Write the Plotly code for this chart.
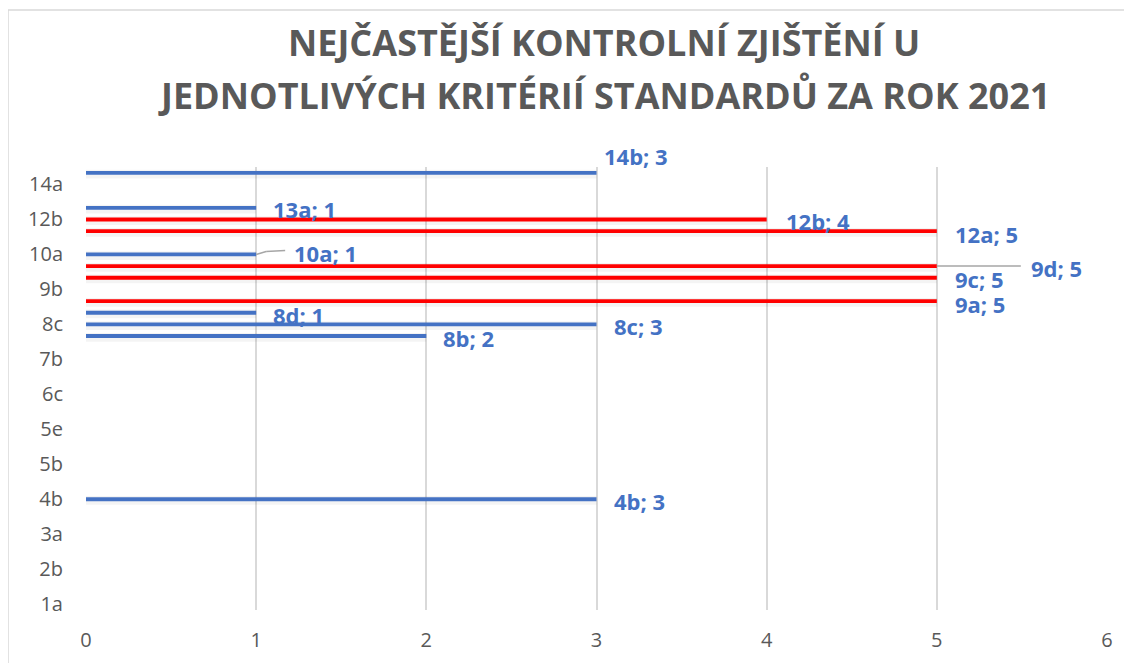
import plotly.graph_objects as go

# ---------------- data ----------------
categories = ["1a", "1b", "2a", "2b", "2c", "2d", "3a", "3b", "4a", "4b", "4c",
              "5a", "5b", "5c", "5d", "5e", "6a", "6b", "6c", "6d", "7a", "7b",
              "8a", "8b", "8c", "8d", "9a", "9b", "9c", "9d", "10a", "11a",
              "12a", "12b", "13a", "13b", "14a", "14b"]
blue_labels = ["4b", "8b", "8c", "8d", "10a", "13a", "14b"]
blue_values = [3, 2, 3, 1, 1, 1, 3]
red_labels = ["9a", "9c", "9d", "12a", "12b"]
red_values = [5, 5, 5, 5, 4]
x_ticks = [0, 1, 2, 3, 4, 5, 6]
title_lines = ["NEJČASTĚJŠÍ KONTROLNÍ ZJIŠTĚNÍ U",
               "JEDNOTLIVÝCH KRITÉRIÍ STANDARDŮ ZA ROK 2021"]

# ---------------- layout constants ----------------
PAGE_OFF = 8  # default body margin of the html page
W, H = 1124, 655
L, R, T, B = 86 - PAGE_OFF, 25, 167 - PAGE_OFF, 53
plot_w = W - L - R
plot_h = H - T - B
px_per_x = plot_w / 6.0
px_per_cat = plot_h / len(categories)

BLUE = "#4472C4"
RED = "#FF0000"
GRID = "#D9D9D9"
TEXT = "#595959"
FONT = "Open Sans"

# data-label offsets in pixels (dx from bar end, dy upward)
label_offsets = {"14b": (5, 17), "13a": (15, -1), "12b": (17, -2), "12a": (16, -3),
                 "10a": (36, 1), "9d": (92, -2), "9c": (16, -1), "9a": (16, -3),
                 "8d": (15, -2), "8c": (15, -2), "8b": (15, -2), "4b": (15, -2)}

fig = go.Figure()

# invisible trace to hold every category on the axis
fig.add_trace(go.Scatter(x=[None] * len(categories), y=categories, mode="markers",
                         marker=dict(opacity=0), showlegend=False, hoverinfo="skip"))

bar_w = 0.33
for labs, vals in ((blue_labels, blue_values), (red_labels, red_values)):
    # soft shadow under the bars
    fig.add_trace(go.Bar(y=labs, x=vals, orientation="h", width=0.75, offset=-0.48,
                         marker=dict(color="rgba(0,0,0,0.045)", line=dict(width=0)),
                         showlegend=False, hoverinfo="skip"))
fig.add_trace(go.Bar(y=blue_labels, x=blue_values, orientation="h", width=bar_w,
                     marker=dict(color=BLUE, line=dict(width=0)), showlegend=False))
fig.add_trace(go.Bar(y=red_labels, x=red_values, orientation="h", width=bar_w,
                     marker=dict(color=RED, line=dict(width=0)), showlegend=False))

annotations = []
for labs, vals in ((blue_labels, blue_values), (red_labels, red_values)):
    for lab, val in zip(labs, vals):
        dx, dy = label_offsets[lab]
        annotations.append(dict(
            x=val, y=lab, xref="x", yref="y", text=f"{lab}; {val}",
            showarrow=False, xanchor="left", yanchor="middle",
            xshift=dx, yshift=dy,
            font=dict(family=FONT, size=22, color=BLUE, weight="bold")))

# title as two annotations
tx = (604 - 86) / plot_w
annotations.append(dict(x=tx, y=1, xref="paper", yref="paper",
                        text=f"<b>{title_lines[0]}</b>", showarrow=False,
                        xanchor="center", yanchor="middle", yshift=167 - 42,
                        font=dict(family=FONT, size=36, color=TEXT)))
annotations.append(dict(x=tx, y=1, xref="paper", yref="paper",
                        text=f"<b>{title_lines[1]}</b>", showarrow=False,
                        xanchor="center", yanchor="middle", yshift=167 - 95,
                        font=dict(family=FONT, size=36, color=TEXT)))

shapes = []
# leader lines for moved labels
i9d = categories.index("9d")
v9d = red_values[red_labels.index("9d")]
shapes.append(dict(type="line", xref="x", yref="y", x0=v9d, x1=v9d + 84 / px_per_x,
                   y0=i9d, y1=i9d, line=dict(color="#A6A6A6", width=1.5)))
i10a = categories.index("10a")
v10a = blue_values[blue_labels.index("10a")]
shapes.append(dict(type="line", xref="x", yref="y", x0=v10a, x1=v10a + 10 / px_per_x,
                   y0=i10a, y1=i10a + 3 / px_per_cat, line=dict(color="#A6A6A6", width=1.5)))
shapes.append(dict(type="line", xref="x", yref="y", x0=v10a + 10 / px_per_x,
                   x1=v10a + 29 / px_per_x, y0=i10a + 3 / px_per_cat,
                   y1=i10a + 4 / px_per_cat, line=dict(color="#A6A6A6", width=1.5)))

# chart-area border (top and left)
bx = (8 - 86) / plot_w
by = 1 + (167 - 10) / plot_h
shapes.append(dict(type="line", xref="paper", yref="paper", x0=bx, x1=1.2, y0=by, y1=by,
                   line=dict(color="#D9D9D9", width=1.5)))
shapes.append(dict(type="line", xref="paper", yref="paper", x0=bx, x1=bx, y0=by, y1=-0.3,
                   line=dict(color="#D9D9D9", width=1.5)))

fig.update_layout(
    width=W, height=H,
    margin=dict(l=L, r=R, t=T, b=B, autoexpand=False),
    paper_bgcolor="white", plot_bgcolor="white",
    barmode="overlay",
    annotations=annotations, shapes=shapes,
    showlegend=False,
    font=dict(family=FONT, color=TEXT),
)
fig.update_xaxes(range=[0, 6], tickvals=x_ticks, showgrid=True, gridcolor=GRID,
                 gridwidth=1.5, zeroline=False, showline=False, ticks="",
                 ticklabelstandoff=16,
                 tickfont=dict(family=FONT, size=20, color=TEXT))
fig.update_yaxes(type="category", categoryorder="array", categoryarray=categories,
                 range=[-0.5, len(categories) - 0.5],
                 tickmode="array", tickvals=categories[::3], ticktext=categories[::3],
                 showgrid=False, zeroline=False, showline=False, ticks="",
                 ticklabelstandoff=22,
                 tickfont=dict(family=FONT, size=20, color=TEXT))

fig.write_html("out.html")
